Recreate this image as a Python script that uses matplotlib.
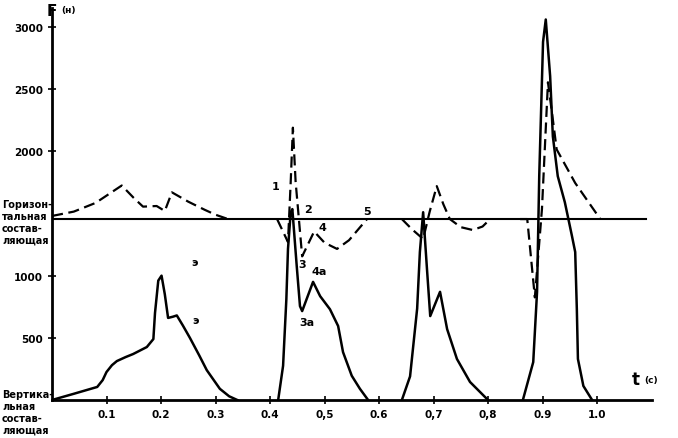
import numpy as np
import matplotlib
matplotlib.use("Agg")
from matplotlib import pyplot as plt

# vertical component (solid), F in newtons
v1_t = [0, 0.04, 0.083, 0.093, 0.1, 0.11, 0.119, 0.135, 0.149, 0.174, 0.186, 0.189, 0.195, 0.201, 0.207, 0.213, 0.222, 0.229, 0.24, 0.253, 0.27, 0.284, 0.308, 0.325, 0.34]
v1_f = [0, 50, 105, 160, 225, 280, 313, 345, 370, 426, 490, 700, 960, 1000, 850, 660, 670, 680, 600, 500, 360, 240, 90, 30, 0]
v2_t = [0.415, 0.424, 0.43, 0.433, 0.438, 0.441, 0.449, 0.455, 0.459, 0.479, 0.492, 0.51, 0.525, 0.534, 0.55, 0.565, 0.58]
v2_f = [0, 275, 810, 1215, 1510, 1535, 1080, 755, 715, 950, 835, 730, 595, 385, 195, 90, 0]
v3_t = [0.642, 0.657, 0.67, 0.675, 0.681, 0.688, 0.694, 0.712, 0.725, 0.743, 0.767, 0.8]
v3_f = [0, 190, 735, 1190, 1510, 1055, 675, 870, 570, 330, 145, 0]
v4_t = [0.864, 0.883, 0.89, 0.894, 0.901, 0.906, 0.914, 0.919, 0.928, 0.941, 0.954, 0.96, 0.963, 0.965, 0.975, 0.991]
v4_f = [0, 305, 870, 1800, 2880, 3060, 2605, 2120, 1800, 1590, 1320, 1190, 730, 330, 113, 0]

# horizontal component (dashed), relative to its own zero line
h_zero = 1455
h1_t = [0, 0.04, 0.08, 0.128, 0.15, 0.167, 0.192, 0.207, 0.22, 0.25, 0.28, 0.3, 0.323]
h1_f = [25, 60, 130, 270, 170, 100, 105, 65, 215, 140, 75, 35, 0]
h2_t = [0.413, 0.433, 0.438, 0.442, 0.447, 0.459, 0.481, 0.5, 0.523, 0.545, 0.578]
h2_f = [0, -185, 300, 735, 300, -300, -100, -190, -240, -170, 0]
h3_t = [0.642, 0.66, 0.681, 0.693, 0.706, 0.718, 0.73, 0.75, 0.772, 0.79, 0.804]
h3_f = [0, -80, -160, 60, 265, 120, 0, -65, -88, -60, 0]
h4_t = [0.859, 0.872, 0.886, 0.899, 0.91, 0.919, 0.926, 0.96, 1.006]
h4_f = [0, 0, -630, 80, 1100, 800, 560, 290, 0]

xticks = [0.1, 0.2, 0.3, 0.4, 0.5, 0.6, 0.7, 0.8, 0.9, 1.0]
xlabels = ['0.1', '0.2', '0.3', '0.4', '0,5', '0.6', '0,7', '0,8', '0.9', '1.0']
yticks = [500, 1000, 2000, 2500, 3000]
ylabels = ['500', '1000', '2000', '2500', '3000']

fig = plt.figure(figsize=(6.78, 4.39), dpi=100)
ax = fig.add_axes([52/678, 38/439, 599.5/678, 391.7/439])

for t, f in [(v1_t, v1_f), (v2_t, v2_f), (v3_t, v3_f), (v4_t, v4_f)]:
    ax.plot(t, f, color='black', lw=1.8, solid_joinstyle='round')
for t, f in [(h1_t, h1_f), (h2_t, h2_f), (h3_t, h3_f), (h4_t, h4_f)]:
    ax.plot(t, np.array(f) + h_zero, color='black', lw=1.6, dashes=(5, 2.5))

ax.plot([0, 1.09], [h_zero, h_zero], color='black', lw=1.5)

ax.set_xlim(0, 1.1)
ax.set_ylim(0, 3150)
ax.spines['top'].set_visible(False)
ax.spines['right'].set_visible(False)
ax.spines['left'].set_linewidth(2)
ax.spines['bottom'].set_linewidth(2)
ax.set_xticks(xticks)
ax.set_xticklabels(xlabels)
ax.set_yticks(yticks)
ax.set_yticklabels(ylabels)
ax.tick_params(direction='inout', length=6, width=1.2, labelsize=7.5)
for lab in ax.get_xticklabels() + ax.get_yticklabels():
    lab.set_fontweight('bold')

tf = dict(fontsize=8, fontweight='bold', color='black')
ax.text(0.411, 1720, '1', ha='center', va='center', **tf)
ax.text(0.469, 1540, '2', ha='center', va='center', **tf)
ax.text(0.459, 1090, '3', ha='center', va='center', **tf)
ax.text(0.497, 1390, '4', ha='center', va='center', **tf)
ax.text(0.578, 1520, '5', ha='center', va='center', **tf)
ax.text(0.468, 630, '3а', ha='center', va='center', **tf)
ax.text(0.49, 1040, '4а', ha='center', va='center', **tf)
ax.text(0.263, 640, 'э', ha='center', va='center', **tf)
ax.text(0.262, 1110, 'э', ha='center', va='center', **tf)

fig.text(52/678, 1 - 12/439, 'F', ha='center', va='center', fontsize=11, fontweight='bold')
fig.text(68/678, 1 - 11/439, '(н)', ha='center', va='center', fontsize=6.5, fontweight='bold')
fig.text(636/678, 1 - 380/439, 't', ha='center', va='center', fontsize=12, fontweight='bold')
fig.text(651/678, 1 - 381/439, '(с)', ha='center', va='center', fontsize=6.5, fontweight='bold')

fig.text(2/678, 1 - 200/439, 'Горизон-\nтальная\nсостав-\nляющая', ha='left', va='top',
         fontsize=7, fontweight='bold', linespacing=1.25)
fig.text(2/678, 1 - 390/439, 'Вертика-\nльная\nсостав-\nляющая', ha='left', va='top',
         fontsize=7, fontweight='bold', linespacing=1.25)

fig.savefig('out.png', dpi=100)
